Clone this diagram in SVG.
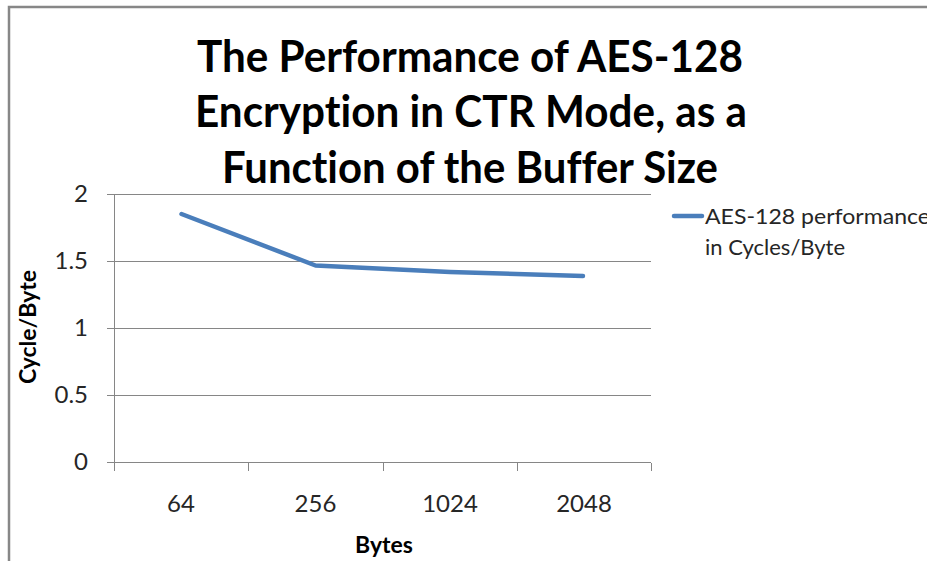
<svg xmlns="http://www.w3.org/2000/svg" width="927" height="561" viewBox="0 0 927 561">
  <style>
    text { font-variant-ligatures: none; font-feature-settings: "liga" 0, "clig" 0, "dlig" 0; font-family: "Lato", "Liberation Sans", sans-serif; }
    .frame { fill: #ffffff; stroke: #878787; stroke-width: 2.5; }
    .grid { stroke: #868686; stroke-width: 1; fill: none; }
    .title { font-weight: bold; font-size: 44px; fill: #000; text-anchor: middle; }
    .tick { font-size: 24px; fill: #262626; }
    .axis-title { font-weight: bold; font-size: 23px; fill: #000; text-anchor: middle; }
    .legend { font-size: 22px; fill: #262626; }
    .series { stroke: #4a7ebb; stroke-width: 4.5; fill: none; stroke-linecap: round; stroke-linejoin: round; }
  </style>

  <!-- chart frame (continues past the right and bottom edges) -->
  <rect class="frame" x="9" y="7" width="960" height="600"/>

  <!-- chart title -->
  <g id="title">
    <text class="title" x="470" y="72" textLength="546" lengthAdjust="spacingAndGlyphs">The Performance of AES-128</text>
    <text class="title" x="471" y="127" textLength="552" lengthAdjust="spacingAndGlyphs">Encryption in CTR Mode, as a</text>
    <text class="title" x="470" y="183" textLength="496" lengthAdjust="spacingAndGlyphs">Function of the Buffer Size</text>
  </g>

  <!-- gridlines, axes and tick marks -->
  <g id="axes">
    <path class="grid" d="M107 194.5H651 M107 261.5H651 M107 328.5H651 M107 395.5H651 M107 462.5H651"/>
    <path class="grid" d="M114.5 194V471"/>
    <path class="grid" d="M248.5 463V471 M383.5 463V471 M517.5 463V471 M651.5 463V471"/>
  </g>

  <!-- value axis labels -->
  <g id="y-labels" class="tick" text-anchor="end">
    <text x="88" y="202">2</text>
    <text x="88" y="269">1.5</text>
    <text x="88" y="336">1</text>
    <text x="88" y="403">0.5</text>
    <text x="88" y="470">0</text>
  </g>

  <!-- category axis labels -->
  <g id="x-labels" class="tick" text-anchor="middle">
    <text x="181" y="512">64</text>
    <text x="315.5" y="512">256</text>
    <text x="450" y="512">1024</text>
    <text x="584" y="512">2048</text>
  </g>

  <!-- axis titles -->
  <g id="y-title">
    <text class="axis-title" transform="translate(36 327) rotate(-90)" x="0" y="0">Cycle/Byte</text>
  </g>
  <g id="x-title">
    <text class="axis-title" x="384" y="553">Bytes</text>
  </g>

  <!-- data series -->
  <g id="series">
    <polyline class="series" points="181.5,214 315.5,265.5 450,272 583,276"/>
  </g>

  <!-- legend -->
  <g id="legend">
    <line class="series" x1="674" y1="216" x2="702" y2="216" stroke-linecap="butt"/>
    <text class="legend" x="705" y="224" textLength="225" lengthAdjust="spacingAndGlyphs">AES-128 performance</text>
    <text class="legend" x="705" y="255">in Cycles/Byte</text>
  </g>
</svg>
